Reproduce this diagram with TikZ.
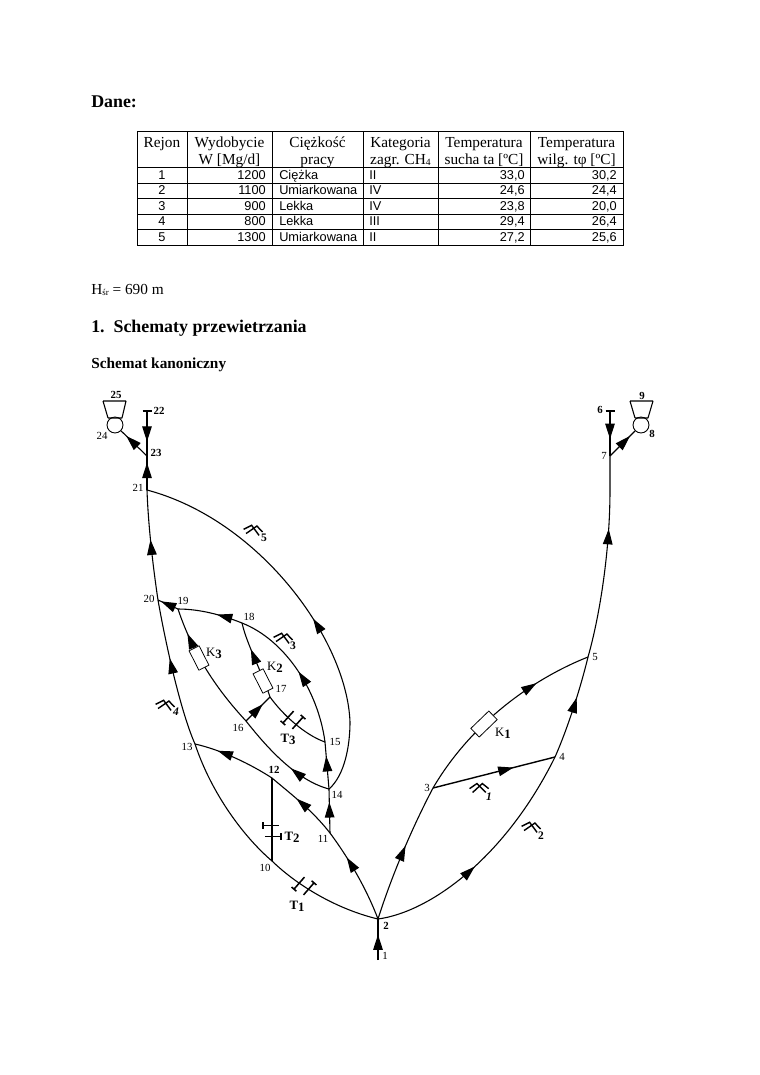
\documentclass[tikz,border=0pt]{standalone}
\usepackage{fontspec}
\setmainfont{Liberation Serif}
\setsansfont{Liberation Sans}
\usepackage{tikz}
\usetikzlibrary{arrows.meta,decorations.markings}

% one unit is one pixel of the page
\tikzset{
  flow/.style={postaction={decorate},decoration={markings,mark=at position #1 with {\arrow{Triangle[length=12pt,width=7.5pt]}}}},
  road/.style={line width=0.85pt},
  num/.style={font=\fontsize{8.5}{9}\selectfont,inner sep=0pt},
  bnum/.style={font=\fontsize{8.5}{9}\bfseries\selectfont,inner sep=0pt},
  cell/.style={font=\fontsize{12}{13}\selectfont,inner sep=0pt,anchor=base},
  scell/.style={font=\fontsize{10}{11}\sffamily\selectfont,inner sep=0pt,anchor=base},
  rcell/.style={scell,anchor=base east},
  lcell/.style={scell,anchor=base west},
  tag/.style={font=\fontsize{10}{11}\selectfont,inner sep=0pt},
  subtag/.style={font=\fontsize{9}{10}\bfseries\selectfont,inner sep=0pt},
  head/.style={font=\fontsize{14}{16}\bfseries\selectfont,inner sep=0pt,anchor=base west},
  fanshape/.style={circle,draw,fill=white,minimum size=12.5pt,inner sep=0pt,line width=0.7pt},
  regbox/.style={draw,fill=white,rectangle,minimum width=19.6pt,minimum height=9.4pt,inner sep=0pt,line width=0.6pt},
  damsign/.pic={
    \draw[line width=1.2pt] (-7pt,4.3pt) -- (5.5pt,4.3pt) (-7pt,1.8pt) -- (-7pt,6.8pt);
    \draw[line width=1.2pt] (-5.5pt,-4.3pt) -- (7pt,-4.3pt) (7pt,-1.8pt) -- (7pt,-6.8pt);
  },
  cutsign/.pic={
    \draw[line width=1.1pt] (-7.4pt,-0.5pt) -- (-1.6pt,3.5pt) -- (5.3pt,-3.5pt);
    \draw[line width=1.1pt] (-5pt,-3.5pt) -- (2.6pt,3.5pt) -- (7.6pt,-0.5pt);
  }
}
\newcommand{\bsub}[2]{#1\raisebox{-1.5pt}{\textbf{#2}}}

\begin{document}
\begin{tikzpicture}[x=0.7833pt,y=-0.7833pt,>=Stealth]
\useasboundingbox (0,0) rectangle (760,1075);
\fill[white] (0,0) rectangle (760,1075);

% headings
\node[head] (dane) at (91,107) {Dane:};
\node[font=\fontsize{12}{14}\selectfont,inner sep=0pt,anchor=base west] (hsr) at (91,294) {H\raisebox{-1.5pt}{\fontsize{7}{8}\selectfont śr} = 690 m};
\node[head] (sect) at (91,332) {1.\ \ Schematy przewietrzania};
\node[head,font=\fontsize{12}{14}\bfseries\selectfont] (sub) at (91,368) {Schemat kanoniczny};

% table grid
\draw[line width=0.6pt] (137,131) rectangle (623,245);
\foreach \yy in {167,183,198,214,229} \draw[line width=0.6pt] (137,\yy) -- (623,\yy);
\foreach \xx in {187,272,363,438,530} \draw[line width=0.6pt] (\xx,131) -- (\xx,245);
% table head
\node[cell] (h1) at (162,147) {Rejon};
\node[cell] (h2) at (229.5,147) {Wydobycie};
\node[cell] (h2b) at (229.5,164) {W [Mg/d]};
\node[cell] (h3) at (317.5,147) {Ciężkość};
\node[cell] (h3b) at (317.5,164) {pracy};
\node[cell] (h4) at (400.5,147) {Kategoria};
\node[cell] (h4b) at (400.5,164) {zagr. CH\raisebox{-1pt}{\fontsize{7.5}{8}\selectfont 4}};
\node[cell] (h5) at (484,147) {Temperatura};
\node[cell] (h5b) at (484,164) {sucha ta [ºC]};
\node[cell] (h6) at (576.5,147) {Temperatura};
\node[cell] (h6b) at (576.5,164) {wilg. tφ [ºC]};
% table rows
\foreach \nr/\yy/\wyd/\ciez/\kat/\tsu/\twi in {1/179/1200/Ciężka/II/{33,0}/{30,2},2/194/1100/Umiarkowana/IV/{24,6}/{24,4},3/210/900/Lekka/IV/{23,8}/{20,0},4/225/800/Lekka/III/{29,4}/{26,4},5/241/1300/Umiarkowana/II/{27,2}/{25,6}}{
  \node[scell] (rej\nr) at (162,\yy) {\nr};
  \node[rcell] (wyd\nr) at (266,\yy) {\wyd};
  \node[lcell] (cie\nr) at (279,\yy) {\ciez};
  \node[lcell] (kat\nr) at (369,\yy) {\kat};
  \node[rcell] (tsu\nr) at (525,\yy) {\tsu};
  \node[rcell] (twi\nr) at (617,\yy) {\twi};
}

% junctions
\coordinate (n1) at (378,960);
\coordinate (n2) at (378,919);
\coordinate (n3) at (433,788);
\coordinate (n4) at (555,757);
\coordinate (n5) at (588,657);
\coordinate (n6) at (610,411);
\coordinate (n7) at (610,456);
\coordinate (n10) at (272,861);
\coordinate (n11) at (330,833);
\coordinate (n12) at (272,778);
\coordinate (n13) at (195,744);
\coordinate (n14) at (329,789);
\coordinate (n15) at (325,742);
\coordinate (n16) at (246,721);
\coordinate (n17) at (270,697);
\coordinate (n18) at (242,623);
\coordinate (n19) at (178,609);
\coordinate (n20) at (158,600);
\coordinate (n21) at (147,490);
\coordinate (n22) at (147,411);
\coordinate (n23) at (147,456);
\node[fanshape] (fanr) at (641,425) {};
\node[fanshape] (fanl) at (115,425) {};

% right side
\draw[road,flow=0.62] (n1) -- (n2);
\draw[road,flow=0.55] (n2) .. controls (392,875) and (412,828) .. (n3);
\draw[road,flow=0.45] (n2) .. controls (430,912) and (505,858) .. (n4);
\draw[road,flow=0.72] (n3) .. controls (470,725) and (530,680) .. (n5);
\draw[road,line width=1.1pt,flow=0.66] (n3) -- (n4);
\draw[road,flow=0.6] (n4) .. controls (567,730) and (580,690) .. (n5);
\draw[road,flow=0.64] (n5) .. controls (600,615) and (610,550) .. (610,490) -- (n7);
\draw[road,flow=0.62] (n6) -- (n7);
\draw[road,flow=0.8] (n7) -- (fanr);
\draw[line width=1.2pt] (605.5,411) -- (614.5,411);
\draw[road] (630,401) -- (653,401) (630,401) -- (635,418) (653,401) -- (648,418) (635,418) -- (648,418);

% left side
\draw[road] (n2) .. controls (340,910) and (300,888) .. (n10);
\draw[road] (n10) .. controls (245,838) and (212,795) .. (n13);
\draw[road,flow=0.6] (n13) .. controls (180,710) and (165,640) .. (n20);
\draw[road,flow=0.55] (n20) .. controls (152,560) and (148,520) .. (n21);
\draw[road,flow=0.8] (n21) -- (n23);
\draw[road,flow=0.68] (n22) -- (n23);
\draw[line width=1.2pt] (142.5,411) -- (151.5,411);
\draw[road,flow=0.8] (n23) -- (fanl);
\draw[road] (103,401) -- (126,401) (103,401) -- (108,418) (126,401) -- (122,418) (108,418) -- (122,418);

\draw[road,flow=0.7] (n2) .. controls (367,890) and (350,860) .. (n11);
\draw[road,flow=0.6] (n11) .. controls (312,810) and (292,795) .. (n12);
\draw[road,flow=0.72] (n12) .. controls (252,765) and (222,750) .. (n13);
\draw[line width=1.3pt] (n10) -- (n12);
\draw[road,flow=0.7] (n11) -- (n14);
\draw[road,flow=0.7] (n14) -- (n15);
\draw[road,flow=0.5] (n15) .. controls (318,690) and (285,640) .. (n18);
\draw[road,flow=0.46] (n14) .. controls (345,775) and (350,745) .. (350,722) .. controls (347,640) and (260,520) .. (n21);
\draw[road,flow=0.4] (n14) .. controls (295,780) and (265,745) .. (n16);
\draw[road,flow=0.8] (n16) .. controls (222,695) and (195,660) .. (n19);
\draw[road,flow=0.7] (n16) -- (n17);
\draw[road,flow=0.65] (n17) .. controls (262,672) and (247,645) .. (n18);
\draw[road] (n17) .. controls (283,715) and (305,735) .. (n15);
\draw[road,flow=0.4] (n18) .. controls (222,615) and (200,609) .. (n19);
\draw[road,flow=0.85] (n19) -- (n20);

% regulators
\node[regbox,rotate=44] (k1) at (484,724) {};
\node[regbox,rotate=-63,minimum width=17pt,minimum height=8.8pt] (k2) at (263,681) {};
\node[regbox,rotate=-63,minimum width=17pt,minimum height=8.8pt] (k3) at (199,658) {};
\node[tag] (lk1) at (503,733) {\bsub{K}{1}};
\node[tag] (lk2) at (275,667) {\bsub{K}{2}};
\node[tag] (lk3) at (214,653) {\bsub{K}{3}};

% dams
\pic[rotate=0] at (272,831) {damsign};
\pic[rotate=49] at (304,886) {damsign};
\pic[rotate=48] at (293,720) {damsign};
\node[tag] (lt1) at (297,906) {\bsub{\textbf{T}}{1}};
\node[tag] (lt2) at (292,837) {\bsub{\textbf{T}}{2}};
\node[tag] (lt3) at (288,739) {\bsub{\textbf{T}}{3}};

% workings
\pic[rotate=0] at (479,788) {cutsign};
\pic[rotate=-8] at (531,827) {cutsign};
\pic[rotate=-8] at (283,638) {cutsign};
\pic[rotate=-8] at (165,705) {cutsign};
\pic[rotate=-8] at (253,530) {cutsign};
\node[subtag,font=\fontsize{9}{10}\bfseries\itshape\selectfont] (lw1) at (489,797) {1};
\node[subtag] (lw2) at (541,836) {2};
\node[subtag] (lw3) at (293,646) {3};
\node[subtag,font=\fontsize{9}{10}\bfseries\itshape\selectfont] (lw4) at (176,712) {4};
\node[subtag] (lw5) at (264,538) {5};

% numbers
\foreach \nr/\xx/\yy in {1/385/956,3/427/788,4/562/757,5/595/657,7/604/456,10/265/868,11/323/839,13/187/747,14/337/795,15/335/742,16/238/728,17/281/689,18/249/617,19/183/601,20/149/599,21/138/488,24/102/436}
  \node[num] (lab\nr) at (\xx,\yy) {\nr};
\foreach \nr/\xx/\yy in {2/386/926,6/600/410,8/652/434,9/642/396,12/274/770,22/159/411,23/156/453,25/116/395}
  \node[bnum] (lab\nr) at (\xx,\yy) {\nr};
\end{tikzpicture}
\end{document}
